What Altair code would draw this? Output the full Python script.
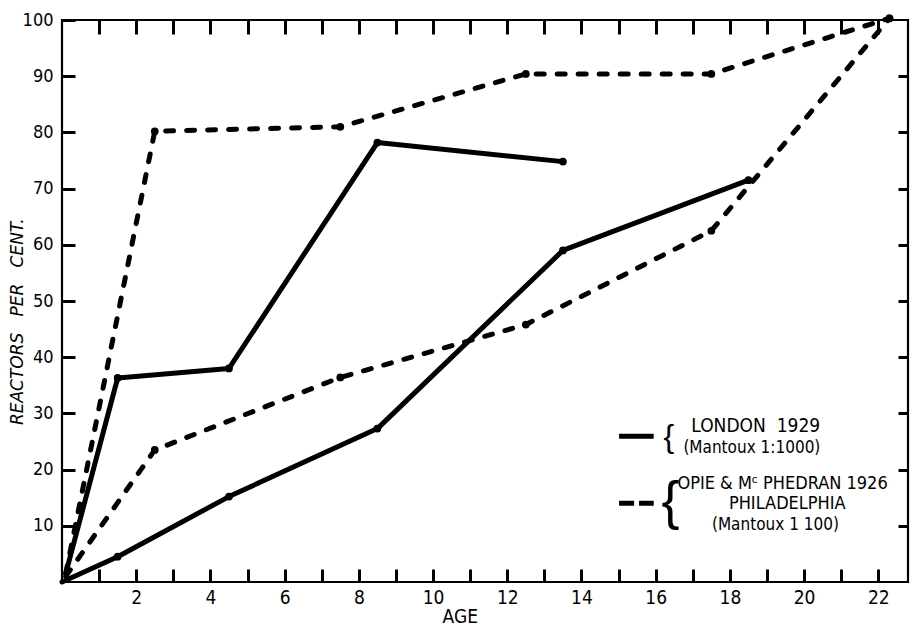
import altair as alt
import pandas as pd

# ---- data ----
ages_london_a = [0.1, 1.5, 4.5, 8.5, 13.5]
pct_london_a = [1.5, 36.3, 38.0, 78.2, 74.8]

ages_london_b = [0.0, 1.5, 4.5, 8.5, 13.5, 18.5]
pct_london_b = [0.0, 4.5, 15.2, 27.3, 59.0, 71.5]

ages_phila_a = [0.1, 2.5, 7.5, 12.5, 17.5, 22.3]
pct_phila_a = [1.5, 80.2, 81.0, 90.4, 90.4, 100.3]

ages_phila_b = [0.1, 2.5, 7.5, 12.5, 17.5, 22.3]
pct_phila_b = [1.0, 23.5, 36.4, 45.8, 62.5, 100.3]

x_ticks = list(range(1, 23))                      # labelled at the even ones
y_tick_labels = [10, 20, 30, 40, 50, 60, 70, 80, 90, 100]
y_minor_ticks = [10, 20, 30, 40, 50, 60, 70, 80, 90]

W, H = 846, 562
XMAX = 22.8
FONT = "DejaVu Sans Condensed"
NB = "\u00a0"

def frame(ages, pcts, name, style):
    return pd.DataFrame({"age": ages, "pct": pcts, "series": name, "style": style,
                         "o": list(range(len(ages)))})

data = pd.concat([
    frame(ages_london_a, pct_london_a, "London A", "solid"),
    frame(ages_london_b, pct_london_b, "London B", "solid"),
    frame(ages_phila_a, pct_phila_a, "Phila A", "dashed"),
    frame(ages_phila_b, pct_phila_b, "Phila B", "dashed"),
], ignore_index=True)

xs = alt.Scale(domain=[0, XMAX], nice=False, zero=False)
ys = alt.Scale(domain=[0, 100], nice=False)

TW = 3

# axes pulled inside the frame (negative offset) so their ticks point inward
X = alt.X("age:Q", scale=xs, title="AGE",
          axis=alt.Axis(values=x_ticks, ticks=True, tickSize=13, tickWidth=TW,
                        tickColor="black", tickOpacity=1, offset=-13,
                        domain=False, grid=False,
                        labelExpr="datum.value % 2 === 0 ? datum.label : ''",
                        labelOverlap=False,
                        labelFontSize=19, labelFont=FONT, labelColor="black",
                        labelPadding=6, titleFontSize=19, titleFont=FONT,
                        titleFontWeight="normal", titleColor="black",
                        titleX=402 * W / 855, titleY=53, titleBaseline="alphabetic"))
Y = alt.Y("pct:Q", scale=ys, title=f"REACTORS{NB*3}PER{NB*3}CENT.",
          axis=alt.Axis(values=y_tick_labels, ticks=True, tickSize=13, tickWidth=TW,
                        tickColor="black", tickOpacity=1, offset=-13,
                        domain=False, grid=False, labelOverlap=False,
                        labelFontSize=18, labelFont=FONT, labelColor="black",
                        labelPadding=9, titleFontSize=17, titleFont="DejaVu Sans",
                        titleFontStyle="italic", titleFontWeight="normal",
                        titleColor="black", titleX=-58, titleY=0.536 * H,
                        titleAngle=-90, titleBaseline="middle"))

base = alt.Chart(data)

solid = base.transform_filter(alt.datum.style == "solid").mark_line(
    color="black", strokeWidth=5, strokeCap="round", strokeJoin="round"
).encode(x=X, y=Y, detail="series:N", order="o:Q")

dashed = base.transform_filter(alt.datum.style == "dashed").mark_line(
    color="black", strokeWidth=5, strokeDash=[8, 13], strokeCap="round"
).encode(x=X, y=Y, detail="series:N", order="o:Q")

dots = base.transform_filter(alt.datum.age > 0.5).mark_circle(
    color="black", opacity=1, size=60).encode(x=X, y=Y)

sx = W / 855.0
sy = H / 571.0

one = pd.DataFrame({"k": [0]})
leg_solid = alt.Chart(one).mark_rule(color="black", strokeWidth=5).encode(
    x=alt.value(563 * sx), x2=alt.value(598 * sx), y=alt.value(423 * sy))
leg_dash = alt.Chart(one).mark_rule(color="black", strokeWidth=5, strokeDash=[15, 5]).encode(
    x=alt.value(563 * sx), x2=alt.value(598 * sx), y=alt.value(491 * sy))

def txt(s, x, y, size, align="left", baseline="middle", font=FONT, weight="normal"):
    return alt.Chart(pd.DataFrame({"s": [s]})).mark_text(
        align=align, baseline=baseline, fontSize=size, font=font,
        fontWeight=weight, color="black"
    ).encode(x=alt.value(x * sx), y=alt.value(y * sy), text="s:N")

legend_texts = [
    txt("{", 608, 424, 32, font="Liberation Sans"),
    txt(f"LONDON{NB*2}1929", 636, 412, 19),
    txt(f"(Mantoux{NB}1:1000)", 628, 435, 17),
    txt("{", 606, 491, 54, font="Liberation Sans"),
    txt("OPIE & Mᶜ PHEDRAN 1926", 622, 471, 18),
    txt("PHILADELPHIA", 733, 492, 18, align="center"),
    txt(f"(Mantoux{NB}1{NB}100)", 721, 513, 17, align="center"),
]

main = alt.layer(dashed, solid, dots, leg_solid, leg_dash, *legend_texts)

# top and right frame ticks (no labels), again pulled inside the frame
frame_axes = base.transform_filter(alt.datum.style == "solid").mark_point(
    opacity=0
).encode(
    x=alt.X("age:Q", scale=xs, title=None,
            axis=alt.Axis(orient="top", values=x_ticks, ticks=True, tickSize=14,
                          tickWidth=TW, tickColor="black", tickOpacity=1, offset=-14,
                          domain=False, grid=False, labels=False)),
    y=alt.Y("pct:Q", scale=ys, title=None,
            axis=alt.Axis(orient="right", values=y_minor_ticks, ticks=True, tickSize=10,
                          tickWidth=TW, tickColor="black", tickOpacity=1, offset=-10,
                          domain=False, grid=False, labels=False)),
)

chart = alt.layer(main, frame_axes).resolve_scale(
    x="independent", y="independent"
).resolve_axis(
    x="independent", y="independent"
).properties(
    width=W, height=H,
    autosize=alt.AutoSizeParams(type="none"),
    padding={"left": 54, "top": 12, "right": 2, "bottom": 46},
    background="white",
).configure_view(stroke="black", strokeWidth=2.2)

chart.save("out.html", embed_options={"renderer": "svg", "actions": False})
